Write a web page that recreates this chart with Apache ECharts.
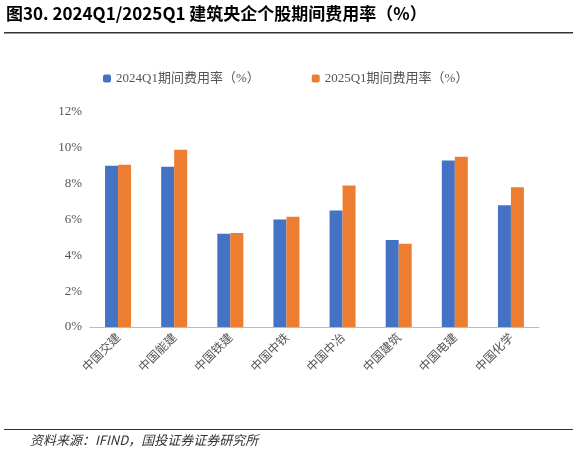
<!DOCTYPE html>
<html><head><meta charset="utf-8">
<script src="https://cdn.jsdelivr.net/npm/echarts@6/dist/echarts.min.js"></script>
<style>body{margin:0;background:#fff}#c{width:577px;height:456px}</style>
</head><body><div id="c"></div>
<script>
const categories=['中国交建','中国能建','中国铁建','中国中铁','中国中冶','中国建筑','中国电建','中国化学'];
const s2024=[9.0,8.95,5.2,6.0,6.5,4.85,9.3,6.8];
const s2025=[9.05,9.9,5.25,6.15,7.9,4.65,9.5,7.8];
const yTicks=[0,2,4,6,8,10,12];
const chart=echarts.init(document.getElementById('c'));
chart.setOption({
  animation:false,
  graphic:[
    {type:'text',left:6,top:5,style:{text:'图30. 2024Q1/2025Q1 建筑央企个股期间费用率（%）',font:'bold 17px "Noto Sans CJK SC"',fill:'#000'}},
    {type:'rect',shape:{x:4,y:32,width:569,height:1.5},style:{fill:'#333'}},
    {type:'rect',shape:{x:4,y:429,width:569,height:1},style:{fill:'#333'}},
    {type:'text',left:30,top:434,style:{text:'资料来源：IFIND，国投证券证券研究所',font:'italic 13px "Noto Sans CJK SC"',fill:'#333'}}
  ],
  legend:{top:67,left:98,itemWidth:8,itemHeight:8,itemGap:52,textStyle:{fontFamily:'Liberation Serif, Noto Sans CJK SC',fontSize:13,color:'#555'},
    data:['2024Q1期间费用率（%）','2025Q1期间费用率（%）']},
  grid:{left:90,right:38,top:112,bottom:129},
  xAxis:{type:'category',data:categories,axisTick:{show:false},axisLine:{lineStyle:{color:'#bbb'}},
    axisLabel:{rotate:45,color:'#555',fontSize:12,fontFamily:'Noto Sans CJK SC',margin:8}},
  yAxis:{type:'value',min:0,max:12,interval:2,splitLine:{show:false},axisLine:{show:false},axisTick:{show:false},
    axisLabel:{formatter:v=>v+'%',color:'#555',fontSize:13,fontFamily:'Liberation Serif'}},
  series:[
    {name:'2024Q1期间费用率（%）',type:'bar',data:s2024,barWidth:13,barGap:'0%',itemStyle:{color:'#4472C4'}},
    {name:'2025Q1期间费用率（%）',type:'bar',data:s2025,barWidth:13,itemStyle:{color:'#ED7D31'}}
  ]
});
</script></body></html>
